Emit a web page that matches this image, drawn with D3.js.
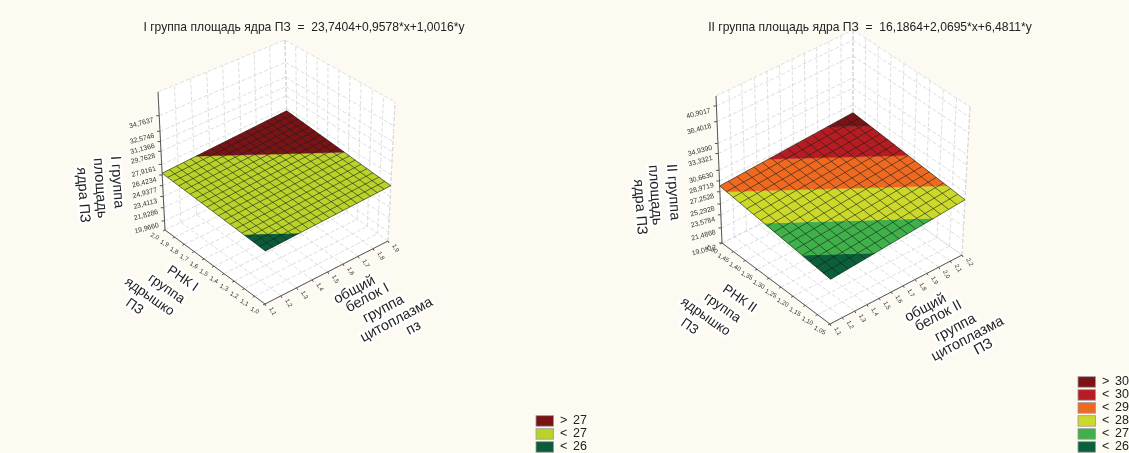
<!DOCTYPE html>
<html>
<head>
    <meta charset="utf-8">
    <title>Площадь ядра ПЗ</title>
    <style>
        html, body { margin: 0; padding: 0; background: #fdfaf2; }
        svg { display: block; filter: blur(0.35px); }
        text { font-family: "Liberation Sans", Arial, sans-serif; fill: #222; white-space: pre; }
        .wall { fill: #fff; stroke: none; }
        .grid { fill: none; stroke: #d6d6d6; stroke-width: 0.8px; stroke-dasharray: 4 2; }
        .axis { stroke: #555; stroke-width: 1px; fill: none; }
        .mesh { stroke: #16221a; stroke-width: 0.7px; stroke-opacity: 0.85; fill: none; }
        .axtitle { text-anchor: middle; stroke: #fff; stroke-width: 5px; stroke-linejoin: round; paint-order: stroke; }
        .tick { text-anchor: middle; fill: #333; }
    </style>
    <script src="https://d3js.org/d3.v7.min.js"></script>
</head>
<body>
<svg id="chart" width="1129" height="453"></svg>
<script>
    // values
    var title1 = "I группа площадь ядра ПЗ  =  23,7404+0,9578*x+1,0016*y";
    var coef1 = [23.7404, 0.9578, 1.0016];
    var xTicks1 = [1.1, 1.2, 1.3, 1.4, 1.5, 1.6, 1.7, 1.8, 1.9];
    var yTicks1 = [1.0, 1.1, 1.2, 1.3, 1.4, 1.5, 1.6, 1.7, 1.8, 1.9, 2.0];
    var zTicks1 = [19.9660, 21.8286, 23.4113, 24.9377, 26.4234, 27.9161, 29.7628, 31.1366, 32.5746, 34.7637];
    var levels1 = [26, 27];
    var colors1 = ["#0a5c3a", "#bbd22b", "#7a1216"];
    var xTitle1 = ["общий", "белок I", "группа", "цитоплазма", "пз"];
    var yTitle1 = ["РНК I", "группа", "ядрышко", "ПЗ"];
    var zTitle1 = ["I группа", "площадь", "ядра ПЗ"];

    var title2 = "II группа площадь ядра ПЗ  =  16,1864+2,0695*x+6,4811*y";
    var coef2 = [16.1864, 2.0695, 6.4811];
    var xTicks2 = [1.1, 1.2, 1.3, 1.4, 1.5, 1.6, 1.7, 1.8, 1.9, 2.0, 2.1, 2.2];
    var yTicks2 = [1.05, 1.10, 1.15, 1.20, 1.25, 1.30, 1.35, 1.40, 1.45, 1.50];
    var zTicks2 = [19.0912, 21.4868, 23.5784, 25.2928, 27.2528, 28.9719, 30.6630, 33.3321, 34.9390, 38.4018, 40.9017];
    var levels2 = [26, 27, 28, 29, 30];
    var colors2 = ["#0b5f3b", "#3fb04a", "#ccd92b", "#ef6a20", "#b71c23", "#7a1216"];
    var xTitle2 = ["общий", "белок II", "группа", "цитоплазма", "ПЗ"];
    var yTitle2 = ["РНК II", "группа", "ядрышко", "ПЗ"];
    var zTitle2 = ["II группа", "площадь", "ядра ПЗ"];

    var locale = d3.formatLocale({ decimal: ",", thousands: " ", grouping: [3], currency: ["", ""] });
    var svg = d3.select("#chart");

    // layout of each panel: box corners on the page, b = floor, t = top
    var panel1 = {
        title: title1, titleX: 304, coef: coef1,
        xTicks: xTicks1, yTicks: yTicks1, zTicks: zTicks1,
        levels: levels1, colors: colors1,
        xDomain: [1.1, 1.9], yDomain: [1.0, 2.0], zDomain: [19.6, 37.1], zAxisDomain: [18.7, 38.1],
        yFmt: ".1f", cells: 18, persp: 0.04,
        Fb: [265, 304], Rb: [388, 241], Lb: [165, 230], Bb: [288, 170],
        Ft: [266, 154], Rt: [395, 102], Lt: [158, 92], Bt: [285, 40],
        xTitle: xTitle1, yTitle: yTitle1, zTitle: zTitle1,
        xTitlePos: [[354, 289], [367, 297], [383, 308], [396, 319], [413, 327]],
        yTitlePos: [[183, 278], [167, 288], [150, 296], [135, 306]],
        zTitlePos: [[118, 182], [101, 188], [84, 195]],
        legendX: 536, legendY: 415.7
    };
    var panel2 = {
        title: title2, titleX: 870, coef: coef2,
        xTicks: xTicks2, yTicks: yTicks2, zTicks: zTicks2,
        levels: levels2, colors: colors2,
        xDomain: [1.1, 2.2], yDomain: [1.05, 1.5], zDomain: [11.5, 54.5], zAxisDomain: [19.09, 42.5],
        yFmt: ".2f", cells: 16, persp: 0.04,
        Fb: [830, 324], Rb: [962, 255], Lb: [722, 243], Bb: [853, 178],
        Ft: [832, 184], Rt: [970, 107], Lt: [716, 96], Bt: [853, 30],
        xTitle: xTitle2, yTitle: yTitle2, zTitle: zTitle2,
        xTitlePos: [[925, 307], [938, 315], [955, 327], [967, 338], [983, 346]],
        yTitlePos: [[740, 298], [723, 307], [706, 316], [690, 326]],
        zTitlePos: [[674, 192], [656, 195], [641, 207]],
        legendX: 1078, legendY: 376.7
    };

    function drawPanel(p) {
        var g = svg.append("g");
        var xs = d3.scaleLinear().domain(p.xDomain).range([0, 1]);
        var ys = d3.scaleLinear().domain(p.yDomain).range([0, 1]);
        var zs = d3.scaleLinear().domain(p.zDomain).range([0, 1]);
        var za = d3.scaleLinear().domain(p.zAxisDomain).range([0, 1]);

        // u along x (front->right), v along y (front->left), t up
        function project(u, v, t) {
            var w0 = [1, 1 + p.persp, 1 + p.persp, 1 + 2 * p.persp];
            var c = [(1 - u) * (1 - v) * w0[0], u * (1 - v) * w0[1], (1 - u) * v * w0[2], u * v * w0[3]];
            var bot = [p.Fb, p.Rb, p.Lb, p.Bb], top = [p.Ft, p.Rt, p.Lt, p.Bt];
            var sx = 0, sy = 0, sw = 0;
            c.forEach(function(k, i) {
                sx += k * ((1 - t) * bot[i][0] + t * top[i][0]);
                sy += k * ((1 - t) * bot[i][1] + t * top[i][1]);
                sw += k;
            });
            return [sx / sw, sy / sw];
        }
        var line = d3.line();
        function seg(a, b, cls) {
            g.append("path").attr("class", cls).attr("d", line([project(a[0], a[1], a[2]), project(b[0], b[1], b[2])]));
        }
        function face(pts) {
            g.append("path").attr("class", "wall").attr("d", line(pts.map(function(q) { return project(q[0], q[1], q[2]); })) + "Z");
        }

        // back walls and floor
        face([[0, 0, 0], [1, 0, 0], [1, 1, 0], [0, 1, 0]]);
        face([[0, 1, 0], [1, 1, 0], [1, 1, 1], [0, 1, 1]]);
        face([[1, 0, 0], [1, 1, 0], [1, 1, 1], [1, 0, 1]]);

        p.xTicks.forEach(function(d) {
            var u = xs(d);
            seg([u, 0, 0], [u, 1, 0], "grid");
            seg([u, 1, 0], [u, 1, 1], "grid");
        });
        p.yTicks.forEach(function(d) {
            var v = ys(d);
            seg([0, v, 0], [1, v, 0], "grid");
            seg([1, v, 0], [1, v, 1], "grid");
        });
        p.zTicks.forEach(function(d) {
            var t = za(d);
            seg([0, 1, t], [1, 1, t], "grid");
            seg([1, 1, t], [1, 0, t], "grid");
        });
        seg([0, 1, 1], [1, 1, 1], "grid");
        seg([1, 1, 1], [1, 0, 1], "grid");
        seg([1, 0, 0], [1, 0, 1], "grid");
        seg([1, 1, 0], [1, 1, 1], "grid");

        // axes
        seg([0, 0, 0], [0, 1, 0], "axis");
        seg([0, 0, 0], [1, 0, 0], "axis");
        seg([0, 1, 0], [0, 1, 1], "axis");

        var fmtX = locale.format(".1f"), fmtY = locale.format(p.yFmt), fmtZ = locale.format(".4f");
        function tick(at, dx, dy, label, lx, ly, rot, size) {
            g.append("path").attr("class", "axis").attr("d", line([at, [at[0] + dx, at[1] + dy]]));
            g.append("text").attr("class", "tick").style("font-size", size + "px")
                .attr("transform", "translate(" + (at[0] + lx) + "," + (at[1] + ly) + ") rotate(" + rot + ")")
                .attr("dy", "0.35em").text(label);
        }
        p.xTicks.forEach(function(d) { tick(project(xs(d), 0, 0), 1, 2, fmtX(d), 8, 7, 60, 6); });
        p.yTicks.forEach(function(d) { tick(project(0, ys(d), 0), -2, 1, fmtY(d), -10, 6, 28, 6.3); });
        p.zTicks.forEach(function(d) { tick(project(0, 1, za(d)), -3, 0, fmtZ(d), -18, 7, -15, 6.9); });

        // surface from the fit in the title, clipped into the coloured bands
        function zAt(q) { return p.coef[0] + p.coef[1] * q[0] + p.coef[2] * q[1]; }
        function clip(poly, lim, keepAbove) {
            var out = [];
            poly.forEach(function(a, i) {
                var b = poly[(i + 1) % poly.length];
                var za_ = zAt(a), zb = zAt(b);
                var ina = keepAbove ? za_ >= lim : za_ <= lim;
                var inb = keepAbove ? zb >= lim : zb <= lim;
                if (ina) out.push(a);
                if (ina !== inb) {
                    var f = (lim - za_) / (zb - za_);
                    out.push([a[0] + f * (b[0] - a[0]), a[1] + f * (b[1] - a[1])]);
                }
            });
            return out;
        }
        function onSurface(x, y) { return project(xs(x), ys(y), zs(zAt([x, y]))); }

        var x0 = p.xDomain[0], x1 = p.xDomain[1], y0 = p.yDomain[0], y1 = p.yDomain[1];
        var quad = [[x0, y0], [x1, y0], [x1, y1], [x0, y1]];
        p.colors.forEach(function(col, i) {
            var poly = quad;
            if (i > 0) poly = clip(poly, p.levels[i - 1], true);
            if (i < p.levels.length && poly.length) poly = clip(poly, p.levels[i], false);
            if (!poly.length) return;
            g.append("path").attr("fill", col).attr("stroke", col).attr("stroke-width", 0.4)
                .attr("d", line(poly.map(function(q) { return onSurface(q[0], q[1]); })) + "Z");
        });
        d3.range(p.cells + 1).forEach(function(i) {
            var f = i / p.cells;
            var xv = x0 + f * (x1 - x0), yv = y0 + f * (y1 - y0);
            g.append("path").attr("class", "mesh").attr("d", line([onSurface(xv, y0), onSurface(xv, y1)]));
            g.append("path").attr("class", "mesh").attr("d", line([onSurface(x0, yv), onSurface(x1, yv)]));
        });

        // texts
        g.append("text").attr("x", p.titleX).attr("y", 31).attr("text-anchor", "middle")
            .style("font-size", "12.1px").text(p.title);

        function titles(list, pos, rot, size) {
            list.forEach(function(s, i) {
                g.append("text").attr("class", "axtitle").style("font-size", size + "px")
                    .attr("transform", "translate(" + pos[i][0] + "," + pos[i][1] + ") rotate(" + rot + ")")
                    .attr("dy", "0.35em").text(s);
            });
        }
        titles(p.xTitle, p.xTitlePos, -28, 14.5);
        titles(p.yTitle, p.yTitlePos, 35, 13.5);
        titles(p.zTitle, p.zTitlePos, 86, 14.5);

        // legend
        var n = p.colors.length;
        d3.range(n).forEach(function(i) {
            var k = n - 1 - i;
            var y = p.legendY + i * 13;
            var sign = k === n - 1 ? ">" : "<";
            var val = k === n - 1 ? p.levels[k - 1] : p.levels[k];
            g.append("rect").attr("x", p.legendX).attr("y", y).attr("width", 17.5).attr("height", 10.5)
                .attr("fill", p.colors[k]).attr("stroke", "#9a9a9a").attr("stroke-width", 0.8);
            g.append("text").attr("x", p.legendX + 24).attr("y", y + 8.3).style("font-size", "12.5px").text(sign);
            g.append("text").attr("x", p.legendX + 37).attr("y", y + 8.3).style("font-size", "12.5px").text(val);
        });
    }

    drawPanel(panel1);
    drawPanel(panel2);
</script>
</body>
</html>
